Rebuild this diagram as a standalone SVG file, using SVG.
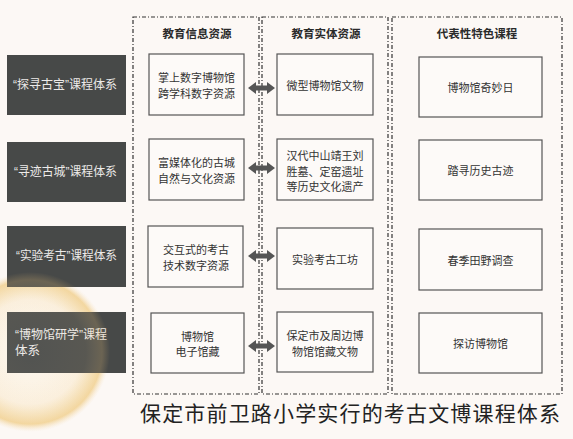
<svg xmlns="http://www.w3.org/2000/svg" width="573" height="439" viewBox="0 0 573 439">
<defs>
<radialGradient id="glow" cx="30" cy="352" r="80" gradientUnits="userSpaceOnUse">
<stop offset="0" stop-color="#fdf9f4"/>
<stop offset="0.65" stop-color="#fbf1e2"/>
<stop offset="0.9" stop-color="#f4dcab"/>
<stop offset="1" stop-color="#fcf8f5" stop-opacity="0"/>
</radialGradient>
<radialGradient id="tint" cx="30" cy="352" r="80" gradientUnits="userSpaceOnUse">
<stop offset="0" stop-color="#fff4dc" stop-opacity="0.06"/>
<stop offset="0.7" stop-color="#f6dcaa" stop-opacity="0.1"/>
<stop offset="0.9" stop-color="#eec47a" stop-opacity="0.22"/>
<stop offset="1" stop-color="#eec47a" stop-opacity="0"/>
</radialGradient>
<path id="dbl" d="M-13.5,0 L-5.5,-6 L-5.5,-2.6 L5.5,-2.6 L5.5,-6 L13.5,0 L5.5,6 L5.5,2.6 L-5.5,2.6 L-5.5,6 Z"/>
</defs>
<style>
.frame{fill:none;stroke:#333;stroke-width:1.2;stroke-dasharray:4 2 1 2}
.dark{fill:#474948}
.box{fill:#fdfaf8;stroke:#555;stroke-width:1.2}
.lt{font-family:"Liberation Sans","Noto Sans CJK SC",sans-serif;font-size:12.5px;fill:#eceae8;dominant-baseline:central}
.bt{font-family:"Noto Sans CJK SC",sans-serif;font-size:11px;fill:#333;text-anchor:middle;dominant-baseline:central}
.hd{font-family:"Noto Sans CJK SC",sans-serif;font-size:11.5px;font-weight:bold;fill:#2a2a2a;text-anchor:middle;dominant-baseline:central}
.title{font-family:"Noto Sans CJK SC",sans-serif;font-size:21px;fill:#222}
.arr{fill:#555}
</style>
<rect width="573" height="439" fill="#fcf8f5"/>
<circle cx="30" cy="352" r="80" fill="url(#glow)"/>

<g id="frames">
<rect class="frame" x="133" y="17" width="126" height="377"/>
<rect class="frame" x="262" y="17" width="126" height="377"/>
<rect class="frame" x="392" y="17" width="170" height="377"/>
<text class="hd" x="197" y="33">教育信息资源</text>
<text class="hd" x="326" y="33">教育实体资源</text>
<text class="hd" x="477" y="33">代表性特色课程</text>
</g>

<g id="sys1"><rect class="dark" x="7" y="55" width="119" height="60"/><text class="lt" x="13" y="85" textLength="104" lengthAdjust="spacingAndGlyphs">“探寻古宝”课程体系</text></g>
<g id="sys2"><rect class="dark" x="7" y="142" width="119" height="60"/><text class="lt" x="14" y="172" textLength="103" lengthAdjust="spacingAndGlyphs">“寻迹古城”课程体系</text></g>
<g id="sys3"><rect class="dark" x="7" y="226" width="119" height="61"/><text class="lt" x="16" y="256" textLength="101" lengthAdjust="spacingAndGlyphs">“实验考古”课程体系</text></g>
<g id="sys4"><rect class="dark" x="7" y="312" width="119" height="61"/><text class="lt" x="15" y="335" textLength="92" lengthAdjust="spacingAndGlyphs">“博物馆研学”课程</text><text class="lt" x="15" y="351">体系</text></g>

<circle cx="30" cy="352" r="80" fill="url(#tint)"/>

<g id="info1"><rect class="box" x="149" y="54" width="95" height="61"/><text class="bt" x="196.5" y="77">掌上数字博物馆</text><text class="bt" x="196.5" y="92.5">跨学科数字资源</text></g>
<g id="info2"><rect class="box" x="149" y="139" width="95" height="61"/><text class="bt" x="196.5" y="162">富媒体化的古城</text><text class="bt" x="196.5" y="177.5">自然与文化资源</text></g>
<g id="info3"><rect class="box" x="148" y="226" width="95" height="61"/><text class="bt" x="196" y="249">交互式的考古</text><text class="bt" x="196" y="264.5">技术数字资源</text></g>
<g id="info4"><rect class="box" x="151" y="313" width="93" height="60"/><text class="bt" x="197.5" y="335.5">博物馆</text><text class="bt" x="197.5" y="351">电子馆藏</text></g>

<g id="ent1"><rect class="box" x="277" y="54" width="96" height="61"/><text class="bt" x="325" y="85">微型博物馆文物</text></g>
<g id="ent2"><rect class="box" x="277" y="139" width="96" height="61"/><text class="bt" x="325" y="155">汉代中山靖王刘</text><text class="bt" x="325" y="170.5">胜墓、定窑遗址</text><text class="bt" x="325" y="186">等历史文化遗产</text></g>
<g id="ent3"><rect class="box" x="277" y="228" width="96" height="61"/><text class="bt" x="325" y="258.5">实验考古工坊</text></g>
<g id="ent4"><rect class="box" x="277" y="312" width="96" height="60"/><text class="bt" x="325" y="335">保定市及周边博</text><text class="bt" x="325" y="350.5">物馆馆藏文物</text></g>

<g id="course1"><rect class="box" x="419" y="57" width="123" height="60"/><text class="bt" x="480.5" y="87">博物馆奇妙日</text></g>
<g id="course2"><rect class="box" x="419" y="140" width="123" height="60"/><text class="bt" x="480.5" y="170">踏寻历史古迹</text></g>
<g id="course3"><rect class="box" x="419" y="229" width="123" height="61"/><text class="bt" x="480.5" y="259.5">春季田野调查</text></g>
<g id="course4"><rect class="box" x="419" y="313" width="123" height="60"/><text class="bt" x="480.5" y="343">探访博物馆</text></g>

<g id="connectors">
<use href="#dbl" class="arr" x="261.5" y="88"/>
<use href="#dbl" class="arr" x="261.5" y="168"/>
<use href="#dbl" class="arr" x="261.5" y="256"/>
<use href="#dbl" class="arr" x="261.5" y="346"/>
</g>

<text class="title" x="140" y="421" textLength="420">保定市前卫路小学实行的考古文博课程体系</text>
</svg>
